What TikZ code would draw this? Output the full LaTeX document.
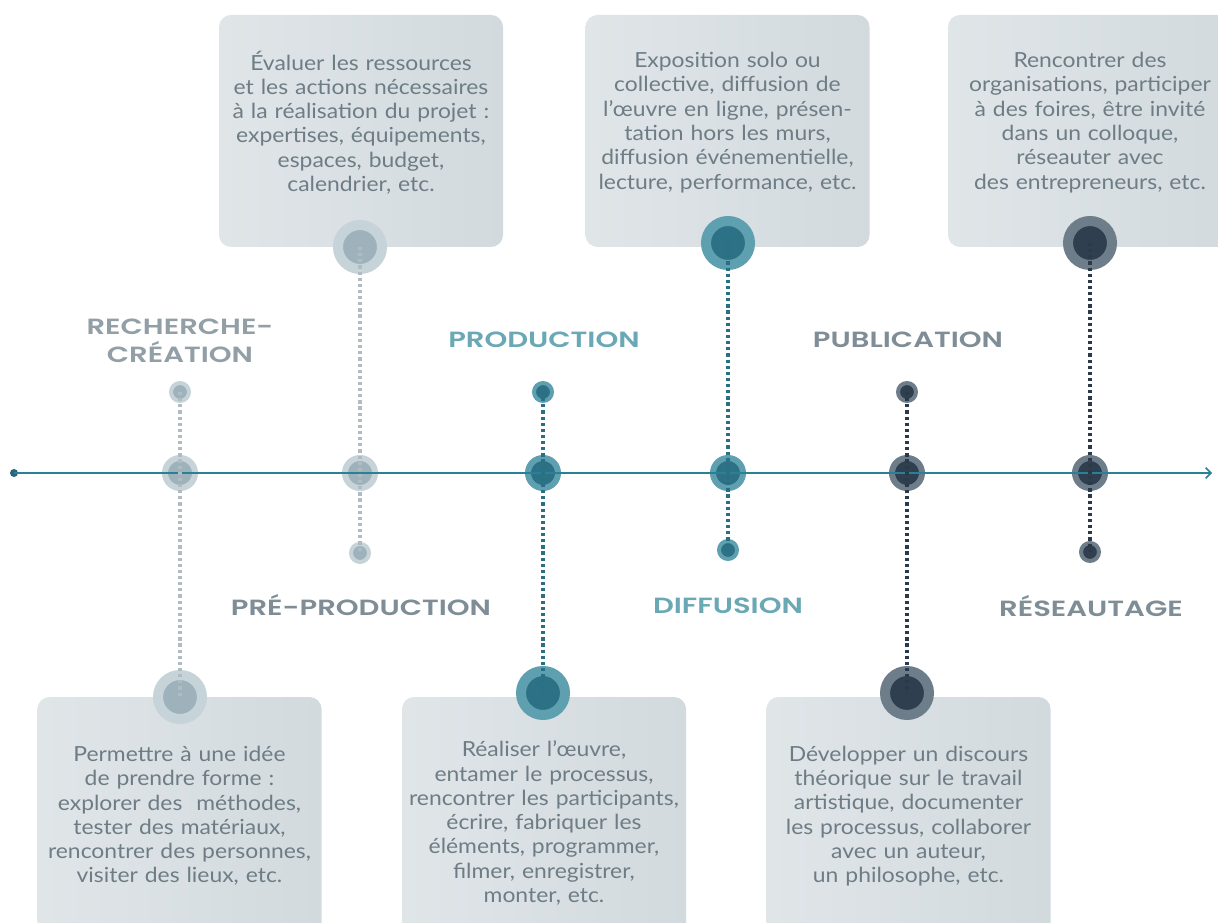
\documentclass[tikz,border=0pt]{standalone}
\usepackage{fontspec}
\setmainfont{Lato}
\newfontfamily\bodyfont[FakeStretch=1.1]{Lato}
\newfontfamily\headfont[FakeStretch=1.32, BoldFont={Poppins SemiBold}]{Poppins}
\usetikzlibrary{arrows.meta}
\definecolor{gIn}{HTML}{9DB2BB}
\definecolor{gHalo}{HTML}{C6D3D9}
\definecolor{tIn}{HTML}{2C7186}
\definecolor{tHalo}{HTML}{5E9FB0}
\definecolor{dIn}{HTML}{2F3F4F}
\definecolor{dHalo}{HTML}{6D7D8A}
\definecolor{gDot}{HTML}{B0BCC2}
\definecolor{tDot}{HTML}{2A6F82}
\definecolor{dDot}{HTML}{2B3A48}
\definecolor{axis}{HTML}{2A8094}
\definecolor{boxL}{HTML}{E0E5E8}
\definecolor{boxR}{HTML}{D2DADE}
\definecolor{txt}{HTML}{6E7D85}
\definecolor{hGray}{HTML}{7F8E96}
\definecolor{hTeal}{HTML}{6AA8B5}
\tikzset{
  infobox/.style={rectangle, rounded corners=9pt, left color=boxL, right color=boxR,
    minimum width=213pt, text width=213pt, align=center, text=txt,
    font=\bodyfont\fontsize{15.6}{18.2}\selectfont, inner sep=0pt},
  phase/.style={font=\headfont\bfseries\fontsize{16.5}{21}\selectfont, align=center},
  dotS/.style={circle, inner sep=0pt, minimum size=13.5pt, line width=3pt},
  dotM/.style={circle, inner sep=0pt, minimum size=22.5pt, line width=4.5pt},
  dotL/.style={circle, inner sep=0pt, minimum size=33pt, line width=7.5pt},
  grayc/.style={fill=gIn, draw=gHalo},
  tealc/.style={fill=tIn, draw=tHalo},
  darkc/.style={fill=dIn, draw=dHalo},
  dotline/.style={line width=2.6pt, dash pattern=on 2.4pt off 2.2pt},
}
\newcommand{\upshift}{\par\vspace{12.75pt}\hrule height 0pt width 0pt}
\begin{document}
\begin{tikzpicture}[x=0.75pt, y=-0.75pt]
\useasboundingbox (0,0) rectangle (1218,923);
\fill[white] (0,0) rectangle (1218,923);
% boxes
\node[infobox, minimum height=174pt] (boxA) at (361,131) {Évaluer les ressources\\et les actions nécessaires\\à la réalisation du projet :\\expertises, équipements,\\espaces, budget,\\calendrier, etc.\upshift};
\node[infobox, minimum height=174pt] (boxB) at (727.5,131) {Exposition solo ou\\collective, diffusion de\\l’œuvre en ligne, présen-\\tation hors les murs,\\diffusion événementielle,\\lecture, performance, etc.\upshift};
\node[infobox, minimum height=174pt] (boxC) at (1090,131) {Rencontrer des\\organisations, participer\\à des foires, être invité\\dans un colloque,\\réseauter avec\\des entrepreneurs, etc.\upshift};
\node[infobox, minimum height=178.5pt] (boxD) at (179.5,816) {Permettre à une idée\\de prendre forme :\\explorer des\ \ méthodes,\\tester des matériaux,\\rencontrer des personnes,\\visiter des lieux, etc.};
\node[infobox, minimum height=189pt] (boxE) at (544,823) {Réaliser l’œuvre,\\entamer le processus,\\rencontrer les participants,\\écrire, fabriquer les\\éléments, programmer,\\filmer, enregistrer,\\monter, etc.};
\node[infobox, minimum height=178.5pt] (boxF) at (908.5,816) {Développer un discours\\théorique sur le travail\\artistique, documenter\\les processus, collaborer\\avec un auteur,\\un philosophe, etc.};
% phase labels
\node[phase, text=hGray!85] (lRech) at (180,341) {RECHERCHE-\\CRÉATION};
\node[phase, text=hGray] (lPre) at (361,605) {PRÉ-PRODUCTION};
\node[phase, text=hTeal] (lProd) at (544,340) {PRODUCTION};
\node[phase, text=hTeal] (lDiff) at (728,606) {DIFFUSION};
\node[phase, text=hGray] (lPub) at (908,340) {PUBLICATION};
\node[phase, text=hGray] (lRes) at (1091,606) {RÉSEAUTAGE};
% circles
\node[dotS, grayc] (c1t) at (180,392) {};
\node[dotM, grayc] (c1m) at (180,473) {};
\node[dotL, grayc] (c1b) at (180,697) {};
\node[dotL, grayc] (c2t) at (360,247) {};
\node[dotM, grayc] (c2m) at (360,473) {};
\node[dotS, grayc] (c2b) at (360,553) {};
\node[dotS, tealc] (c3t) at (543,392) {};
\node[dotM, tealc] (c3m) at (543,473) {};
\node[dotL, tealc] (c3b) at (543,693) {};
\node[dotL, tealc] (c4t) at (728,243) {};
\node[dotM, tealc] (c4m) at (728,473) {};
\node[dotS, tealc] (c4b) at (728,550) {};
\node[dotS, darkc] (c5t) at (907,392) {};
\node[dotM, darkc] (c5m) at (907,473) {};
\node[dotL, darkc] (c5b) at (907,693) {};
\node[dotL, darkc] (c6t) at (1090,243) {};
\node[dotM, darkc] (c6m) at (1090,473) {};
\node[dotS, darkc] (c6b) at (1090,552) {};
% timeline
\node[circle, fill=tIn!90!black, inner sep=0pt, minimum size=6pt] (start) at (14,473) {};
\coordinate (end) at (1212,473);
\draw[axis, line width=1.1pt, -{Straight Barb[length=4pt, width=8pt]}] (start.center) -- (end);
% dotted connectors
\draw[gDot, dotline] (c1t.center) -- (c1m.center) -- (c1b.center);
\draw[gDot, dotline] (c2t.center) -- (c2m.center) -- (c2b.center);
\draw[tDot, dotline] (c3t.center) -- (c3m.center) -- (c3b.center);
\draw[tDot, dotline] (c4t.center) -- (c4m.center) -- (c4b.center);
\draw[dDot, dotline] (c5t.center) -- (c5m.center) -- (c5b.center);
\draw[dDot, dotline] (c6t.center) -- (c6m.center) -- (c6b.center);
\end{tikzpicture}
\end{document}
